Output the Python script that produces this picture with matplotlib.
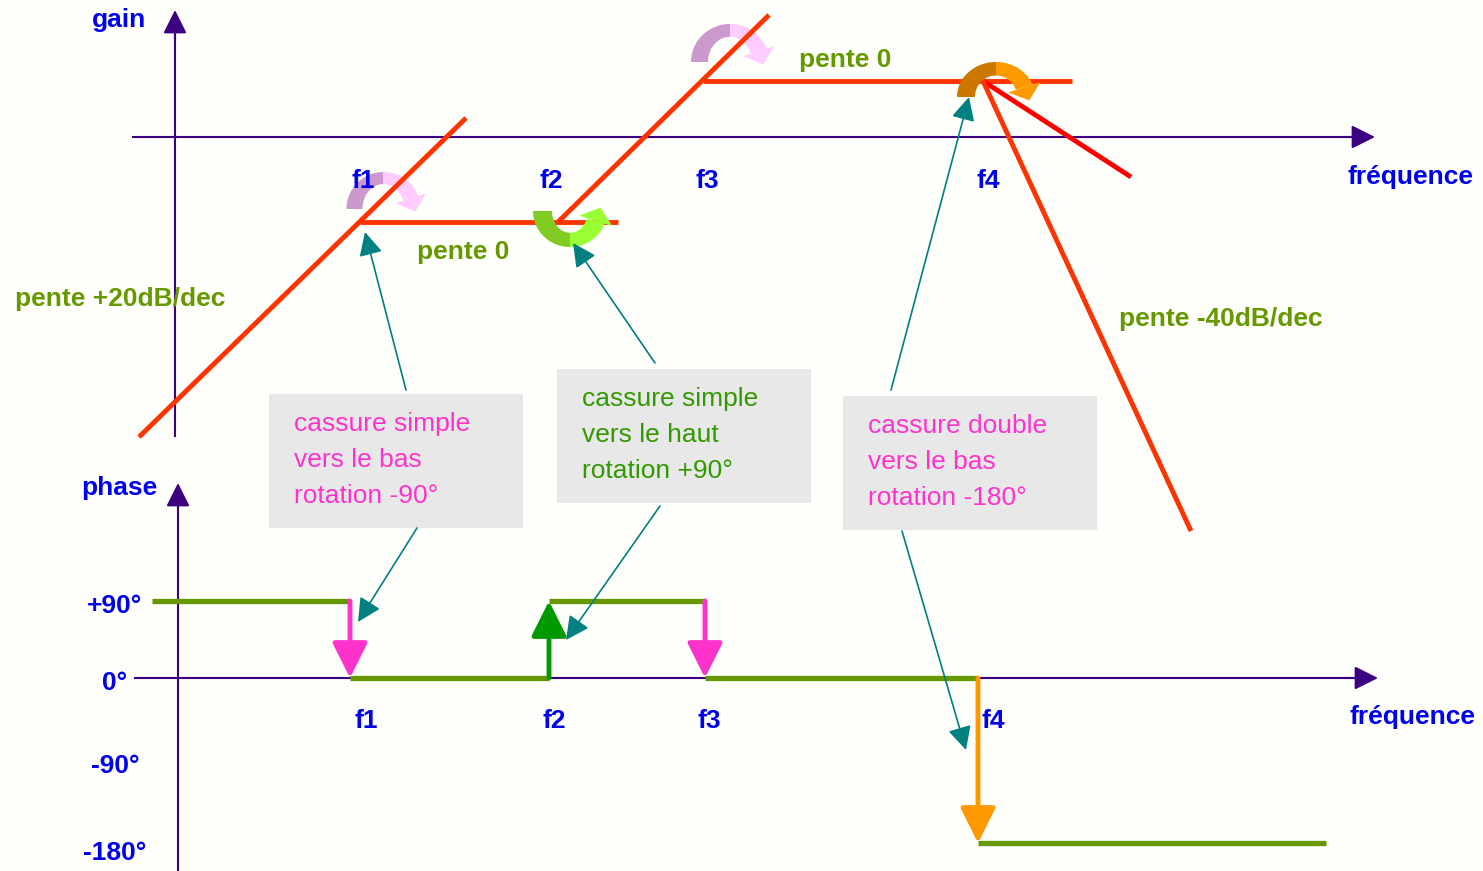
import numpy as np
import matplotlib
matplotlib.use("Agg")
import matplotlib.pyplot as plt
from matplotlib.patches import Rectangle

plt.rcParams['font.family'] = ['Liberation Sans', 'DejaVu Sans']

# ---- data (diagram units: pixels of the drawing, phase in degrees) ----
gain_f_labels = ["f1", "f2", "f3", "f4"]
gain_f_x = [363, 551, 707, 988]
phase_f_x = [366, 554, 709, 993]

# asymptotic gain segments (x0, y0, x1, y1)
gain_segments = [
    (139, 437, 466, 118),    # +20dB/dec
    (360, 222, 618, 222),    # pente 0
    (558, 222, 769, 15),     # +20dB/dec
    (703, 81, 1072, 81),     # pente 0
]
gain_m40 = (983, 81, 1191, 531)   # -40dB/dec
gain_extra = (983, 81, 1131, 177)

# phase steps
phase_x = [152, 350, 549, 705, 978, 1326]
phase_deg = [90, 0, 90, 0, -180]
phase_ticks = [90, 0, -90, -180]
phase_tick_labels = ["+90°", "0°", "-90°", "-180°"]
phase_tick_pix = [601, 678, 762, 843]

step_colors = ['#ff33cc', '#009900', '#ff33cc', '#ff9900']

boxes = [
    ("cassure simple\nvers le bas\nrotation -90°", '#ff33cc'),
    ("cassure simple\nvers le haut\nrotation +90°", '#339900'),
    ("cassure double\nvers le bas\nrotation -180°", '#ff33cc'),
]

BLUE = '#0000ee'
OLIVE = '#669900'
AXC = '#3d0080'
RED = '#ff3300'
TEAL = '#008080'
FS = 19


def ph(d):
    return np.interp(d, phase_ticks[::-1], phase_tick_pix[::-1])


fig = plt.figure(figsize=(14.83, 8.71), dpi=100)
fig.patch.set_facecolor('#fefefb')
ax = fig.add_axes([0, 0, 1, 1])
ax.set_xlim(0, 1483)
ax.set_ylim(871, 0)
ax.axis('off')


def arrow(x0, y0, x1, y1, color, lw, ms, z=3):
    ax.annotate('', xy=(x1, y1), xytext=(x0, y0), zorder=z,
                arrowprops=dict(arrowstyle='-|>,head_length=0.4,head_width=0.2',
                                mutation_scale=ms, lw=lw, color=color,
                                shrinkA=0, shrinkB=0))


def label(x, y, s, color, bold=True, ha='center', z=2):
    ax.text(x, y + 2, s, color=color, fontsize=FS, fontweight='bold' if bold else 'normal',
            ha=ha, va='center', zorder=z)


def curved_arrow(cx, cy, rx, ry, w, c1, c2, up=True, t_end=20, z=2):
    s = -1 if up else 1
    wy = w * 0.75
    for ts, c in ((np.linspace(180, 90, 40), c1), (np.linspace(90, t_end, 40), c2)):
        t = np.radians(ts)
        xo = cx + rx * np.cos(t)
        yo = cy + s * ry * np.sin(t)
        xi = cx + (rx - w) * np.cos(t)
        yi = cy + s * (ry - wy) * np.sin(t)
        ax.fill(np.r_[xo, xi[::-1]], np.r_[yo, yi[::-1]], color=c, lw=0, zorder=z)
    te = np.radians(t_end)
    ext = 8
    bo = (cx + (rx + ext) * np.cos(te), cy + s * (ry + ext) * np.sin(te))
    bi = (cx + (rx - w - ext) * np.cos(te), cy + s * (ry - wy - ext) * np.sin(te))
    rmx, rmy = rx - w / 2, ry - wy / 2
    mid = np.array([cx + rmx * np.cos(te), cy + s * rmy * np.sin(te)])
    d = np.array([rmx * np.sin(te), -s * rmy * np.cos(te)])
    d = d / np.hypot(*d)
    tip = mid + 14 * d
    ax.fill([bo[0], tip[0], bi[0]], [bo[1], tip[1], bi[1]], color=c2, lw=0, zorder=z)


# ---- gain part ----
ax.plot([175, 175], [436, 25], color=AXC, lw=1.5, zorder=1)
arrow(175, 40, 175, 10, AXC, 1.5, 36)
ax.plot([133, 1360], [137, 137], color=AXC, lw=1.5, zorder=1)
arrow(1345, 137, 1375, 137, AXC, 1.5, 36)

curved_arrow(383.5, 209, 37, 37, 16, '#cc99cc', '#ffccff', z=1)
curved_arrow(730, 62, 39, 38, 17, '#cc99cc', '#ffccff', z=1)

for x0, y0, x1, y1 in gain_segments:
    ax.plot([x0, x1], [y0, y1], color=RED, lw=3.5, zorder=2, solid_capstyle='butt')
ax.plot([gain_extra[0], gain_extra[2]], [gain_extra[1], gain_extra[3]],
        color='#ff0000', lw=3.5, zorder=4, solid_capstyle='butt')
ax.plot([gain_m40[0], gain_m40[2]], [gain_m40[1], gain_m40[3]],
        color=RED, lw=3.5, zorder=4, solid_capstyle='butt')

curved_arrow(570, 211, 37, 36, 19, '#80cc22', '#99ff33', up=False, z=3)
curved_arrow(996, 97, 39, 35, 18, '#cc7700', '#ff9900', z=3)

label(119, 18, "gain", BLUE)
label(1410, 175, "fréquence", BLUE)
for lab, x in zip(gain_f_labels, gain_f_x):
    label(x, 179, lab, BLUE, z=1.5)

label(120, 297, "pente +20dB/dec", OLIVE)
label(463, 250, "pente 0", OLIVE)
label(845, 58, "pente 0", OLIVE)
label(1221, 317, "pente -40dB/dec", OLIVE)

# ---- phase part ----
ax.plot([178, 178], [870, 500], color=AXC, lw=1.5, zorder=1)
arrow(178, 510, 178, 483, AXC, 1.5, 36)
ax.plot([135, 1360], [678, 678], color=AXC, lw=1.5, zorder=1)
arrow(1345, 678, 1378, 678, AXC, 1.5, 36)

label(119, 486, "phase", BLUE)
label(1412, 715, "fréquence", BLUE)
for lab, x in zip(gain_f_labels, phase_f_x):
    label(x, 719, lab, BLUE)
for lab, y in zip(phase_tick_labels, [604, 681, 764, 851]):
    label(115, y, lab, BLUE)

for i, d in enumerate(phase_deg):
    ax.plot([phase_x[i], phase_x[i + 1]], [ph(d), ph(d)], color=OLIVE, lw=3.8,
            zorder=2, solid_capstyle='butt')
for i in range(1, len(phase_deg)):
    x = phase_x[i]
    arrow(x, ph(phase_deg[i - 1]), x, ph(phase_deg[i]), step_colors[i - 1], 3.5, 54, z=3)

# ---- annotation boxes ----
box_xy = [(269, 394), (557, 369), (843, 396)]
for (text, col), (bx, by) in zip(boxes, box_xy):
    ax.add_patch(Rectangle((bx, by), 254, 134, facecolor='#e8e8e8', edgecolor='none', zorder=1))
    for k, line in enumerate(text.split("\n")):
        label(bx + 25, by + 28 + 36 * k, line, col, bold=False, ha='left')

teal = [
    (406, 390, 365, 232), (417, 528, 358, 622),
    (655, 363, 573, 243), (660, 506, 566, 640),
    (891, 390, 969, 97), (902, 531, 966, 750),
]
for x0, y0, x1, y1 in teal:
    arrow(x0, y0, x1, y1, TEAL, 1.2, 36, z=5)

fig.savefig("out.png", dpi=100, facecolor=fig.get_facecolor())
